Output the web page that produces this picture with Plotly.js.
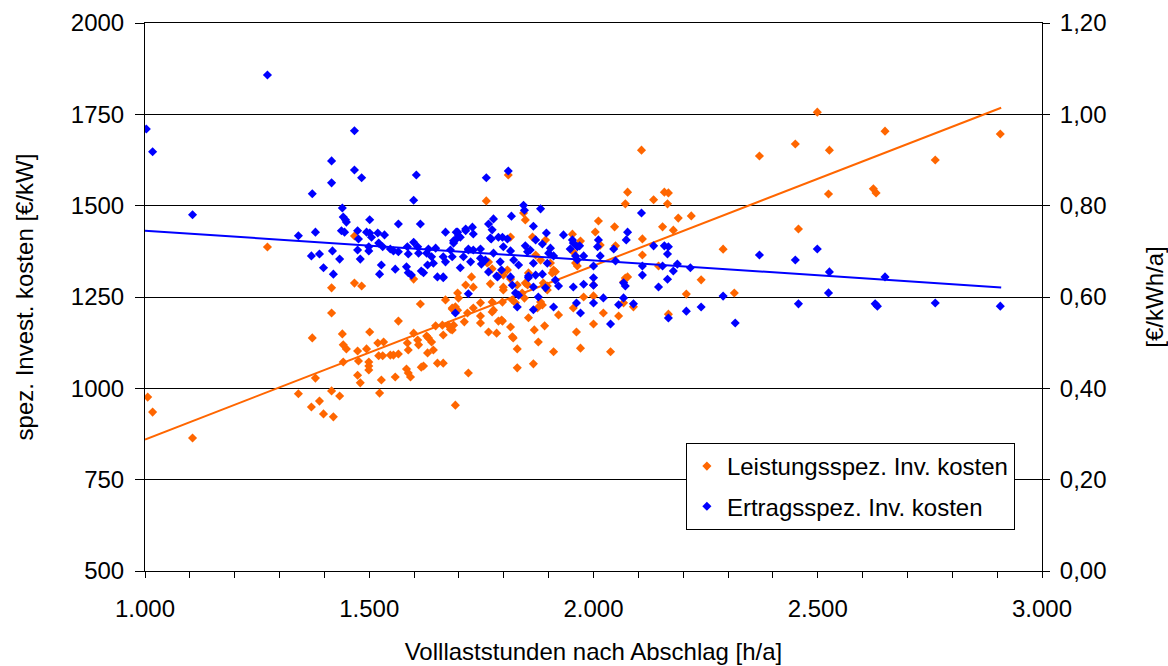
<!DOCTYPE html>
<html>
<head>
<meta charset="utf-8">
<script src="https://cdn.plot.ly/plotly-3.0.1.min.js"></script>
<style>html,body{margin:0;padding:0;background:#fff;}#chart{width:1168px;height:666px;}</style>
</head>
<body>
<div id="chart"></div>
<script>
// Leistungsspezifische Investitionskosten [€/kW] (left axis)
const orangeX = [1006,1017,1106,1273,1342,1373,1380,1371,1389,1398,1416,1416,1420,1434,1440,1442,1449,1442,1474,1476,1474,1480,1494,1501,1499,1499,1499,1519,1521,1530,1532,1527,1523,1547,1554,1565,1565,1558,1585,1587,1583,1587,1592,1599,1608,1610,1614,1616,1621,1628,1632,1630,1639,1643,1648,1652,1665,1665,1670,1681,1685,1688,1692,1712,1721,1732,1748,1748,1766,1784,1774,1788,1467,1416,1467,1483,1599,1761,1763,1770,1774,1728,1732,1715,1697,1810,2107,2076,2071,2134,2158,2167,2165,2189,2218,2178,2154,2109,2109,2047,2011,2004,2049,2015,1844,1848,1815,1864,1893,1971,1955,1964,1960,1904,1882,1871,1855,1908,1911,1848,1853,1888,1897,1799,1799,1830,2000,2071,2076,2145,2240,2289,2370,2450,2499,2526,2524,2624,2630,2650,2457,2207,2314,1978,2000,2762,2907,1797,1815,1819,1830,1830,1866,1877,1868,1891,1855,1886,1922,1911,1962,1971,1955,2000,2022,2056,2038,2067,2089,2167,1766,1797,1808,1815,1799,1915,1897,1699,1692,1685,1697,1774,1777,1797,1819,1826,1841,1846,1882,1875,1663,1676,1685,1719,1748,1795,1821,2067,1953];
const orangeY = [976,935,864,1387,985,1138,1028,949,965,930,1206,993,922,979,1149,1119,1108,1072,1102,1075,1036,1015,1108,1154,1072,1061,1050,1124,1089,1089,1127,1023,987,1091,1091,1094,1184,1031,1124,1105,1053,1042,1031,1151,1132,1119,1231,1058,1061,1143,1138,1097,1127,1105,1171,1069,1069,1146,1242,1162,1220,1173,954,1182,1042,1220,1234,1179,1154,1151,1209,1184,1417,1275,1288,1280,1299,1513,1343,1286,1327,1305,1277,1283,1261,1584,1652,1537,1505,1516,1537,1535,1505,1466,1472,1433,1442,1409,1365,1442,1458,1428,1390,1392,1480,1461,1414,1414,1406,1403,1373,1335,1343,1343,1351,1365,1316,1316,1324,1288,1283,1288,1280,1277,1310,1283,1283,1302,1305,1335,1297,1381,1636,1669,1756,1652,1532,1546,1535,1704,1436,1258,1261,1250,1253,1625,1696,1184,1168,1141,1108,1056,1067,1127,1160,1171,1193,1228,1201,1100,1154,1110,1220,1176,1206,1198,1100,1234,1223,1203,1346,1318,1324,1299,1269,1319,1269,1247,1223,1217,1214,1236,1214,1236,1242,1234,1261,1247,1236,1220,1173,1173,1160,1206,1198,1187,1138,1291,1422];

// Ertragsspezifische Investitionskosten [€/kWh/a] (right axis)
const blueX = [1003,1017,1106,1273,1342,1373,1380,1371,1389,1398,1416,1416,1418,1420,1434,1440,1442,1447,1449,1438,1445,1467,1467,1483,1474,1476,1474,1480,1494,1501,1501,1505,1499,1499,1519,1521,1530,1534,1527,1523,1547,1554,1558,1565,1565,1585,1587,1583,1587,1594,1599,1605,1599,1608,1610,1614,1616,1621,1628,1632,1630,1639,1643,1648,1652,1665,1670,1665,1681,1685,1688,1692,1697,1703,1710,1715,1721,1730,1732,1732,1748,1750,1721,1761,1766,1766,1774,1772,1777,1777,1788,1784,1810,1844,1846,1882,1817,1866,1895,1933,1797,1808,1871,1886,1953,1955,1964,2011,2009,2076,2073,2107,2045,2134,2158,2167,2165,1799,1815,1848,1853,1904,1900,1948,1911,1978,2015,1960,1822,1833,1866,1897,1964,2000,2049,2109,2154,2187,2178,2216,2370,2450,2499,2526,2650,1815,1855,1886,1871,1819,1866,1893,1922,1955,1978,2000,2000,2067,2071,2109,2145,2165,2289,2524,1826,1877,2022,2067,2457,2628,2633,2316,2207,2240,2167,2089,2056,2038,2000,1971,1962,1911,1866,1830,2762,2907,1692,1665,1786,1795,1833,1855,1915,1694,1699,1688,1770,1969,1721,1748,1859,1715,1670,1726,1759,1792,1703];
const blueY = [0.968,0.918,0.780,1.086,0.734,0.826,0.742,0.690,0.694,0.664,0.898,0.850,0.701,0.650,0.683,0.795,0.775,0.769,0.764,0.745,0.742,0.964,0.878,0.861,0.745,0.727,0.703,0.683,0.742,0.769,0.740,0.731,0.710,0.701,0.740,0.718,0.710,0.736,0.670,0.650,0.705,0.701,0.661,0.760,0.699,0.710,0.694,0.666,0.653,0.648,0.812,0.867,0.720,0.710,0.696,0.760,0.657,0.653,0.696,0.705,0.670,0.688,0.674,0.707,0.644,0.644,0.742,0.688,0.703,0.688,0.718,0.725,0.742,0.731,0.688,0.745,0.703,0.753,0.738,0.703,0.685,0.672,0.607,0.861,0.655,0.760,0.747,0.727,0.771,0.696,0.731,0.646,0.876,0.801,0.790,0.793,0.777,0.755,0.740,0.736,0.731,0.727,0.725,0.716,0.725,0.718,0.710,0.725,0.710,0.742,0.725,0.784,0.705,0.712,0.712,0.710,0.694,0.710,0.701,0.712,0.699,0.707,0.696,0.705,0.690,0.690,0.690,0.690,0.681,0.670,0.674,0.674,0.681,0.668,0.679,0.668,0.668,0.672,0.657,0.664,0.692,0.681,0.705,0.655,0.644,0.644,0.646,0.650,0.648,0.626,0.622,0.620,0.624,0.622,0.628,0.642,0.626,0.631,0.624,0.648,0.622,0.639,0.602,0.609,0.609,0.600,0.598,0.598,0.585,0.585,0.580,0.543,0.569,0.578,0.554,0.585,0.583,0.541,0.587,0.565,0.587,0.578,0.572,0.578,0.587,0.580,0.565,0.642,0.644,0.659,0.604,0.642,0.637,0.742,0.734,0.723,0.729,0.712,0.705,0.705,0.703,0.749,0.677,0.677,0.681,0.677,0.664];

// Linear trend lines (end points)
const trendX = [1000, 2909];
const orangeTrend = [860, 1768];
const blueTrend = [0.745, 0.621];

const seriesNames = ['Leistungsspez. Inv. kosten', 'Ertragsspez. Inv. kosten'];
const xTitle = 'Volllaststunden nach Abschlag [h/a]';
const yTitle = 'spez. Invest. kosten [€/kW]';
const y2Title = '[€/kWh/a]';

const ORANGE = '#FF6600', BLUE = '#0000FF';
const FONT = 'Liberation Sans, Arial, sans-serif';
const FS = 24;

const traces = [
  {x: orangeX, y: orangeY, type: 'scatter', mode: 'markers', name: seriesNames[0],
   legendgroup: 'a', marker: {symbol: 'diamond', size: 7, color: ORANGE}, xaxis: 'x', yaxis: 'y'},
  {x: trendX, y: orangeTrend, type: 'scatter', mode: 'lines', showlegend: false,
   line: {color: ORANGE, width: 2}, xaxis: 'x', yaxis: 'y'},
  {x: blueX, y: blueY, type: 'scatter', mode: 'markers', name: seriesNames[1],
   legendgroup: 'b', marker: {symbol: 'diamond', size: 7, color: BLUE}, xaxis: 'x', yaxis: 'y2'},
  {x: trendX, y: blueTrend, type: 'scatter', mode: 'lines', showlegend: false,
   line: {color: BLUE, width: 2}, xaxis: 'x', yaxis: 'y2'}
];

const layout = {
  width: 1168, height: 666,
  margin: {l: 145, r: 126, t: 23, b: 95},
  paper_bgcolor: '#fff', plot_bgcolor: '#fff',
  separators: ',.',
  font: {family: FONT, size: FS, color: '#000'},
  showlegend: true,
  legend: {x: 0.603, y: 0.2336, xanchor: 'left', yanchor: 'top',
    bordercolor: '#000', borderwidth: 1, bgcolor: '#fff',
    font: {family: FONT, size: FS, color: '#000'},
    traceorder: 'grouped', tracegroupgap: 6, itemwidth: 30},
  xaxis: {range: [1000, 3000], tickvals: [1000, 1500, 2000, 2500, 3000], tickformat: ',d',
    ticks: 'outside', ticklen: 6, tickcolor: '#000', tickwidth: 1, ticklabelstandoff: 10,
    minor: {dtick: 100, tick0: 1000, ticks: 'outside', ticklen: 6, tickcolor: '#000', showgrid: false},
    showline: true, linecolor: '#000', linewidth: 1, mirror: true,
    showgrid: false, zeroline: false,
    tickfont: {family: FONT, size: FS, color: '#000'},
    title: {text: xTitle, font: {family: FONT, size: FS, color: '#000'}, standoff: 22}},
  xaxis2: {overlaying: 'x', matches: 'x', anchor: 'y', side: 'bottom',
    tickvals: [1000, 1500, 2000, 2500, 3000], ticks: 'inside', ticklen: 6, tickcolor: '#000',
    minor: {dtick: 100, tick0: 1000, ticks: 'inside', ticklen: 6, tickcolor: '#000', showgrid: false},
    showticklabels: false, showline: false, showgrid: false, zeroline: false},
  yaxis: {range: [500, 2000], dtick: 250, tick0: 500, tickformat: 'd',
    ticks: 'outside', ticklen: 9, tickcolor: '#000', ticklabelstandoff: 6,
    showline: true, linecolor: '#000', linewidth: 1,
    showgrid: true, gridcolor: '#000', gridwidth: 1, zeroline: false,
    tickfont: {family: FONT, size: FS, color: '#000'},
    title: {text: yTitle, font: {family: FONT, size: FS, color: '#000'}, standoff: 30}},
  yaxis2: {overlaying: 'y', side: 'right', anchor: 'x', range: [0, 1.2], dtick: 0.2, tick0: 0,
    tickformat: '.2f', ticks: 'outside', ticklen: 7, tickcolor: '#000', ticklabelstandoff: 5,
    showline: true, linecolor: '#000', linewidth: 1,
    showgrid: false, zeroline: false,
    tickfont: {family: FONT, size: FS, color: '#000'},
    title: {text: y2Title, font: {family: FONT, size: FS, color: '#000'}, standoff: 46}},
  yaxis3: {overlaying: 'y', side: 'right', anchor: 'x', matches: 'y2', dtick: 0.2, tick0: 0,
    ticks: 'inside', ticklen: 7, tickcolor: '#000', showticklabels: false,
    showline: false, showgrid: false, zeroline: false}
};

Plotly.newPlot('chart', traces, layout, {displayModeBar: false, staticPlot: true});
</script>
</body>
</html>
